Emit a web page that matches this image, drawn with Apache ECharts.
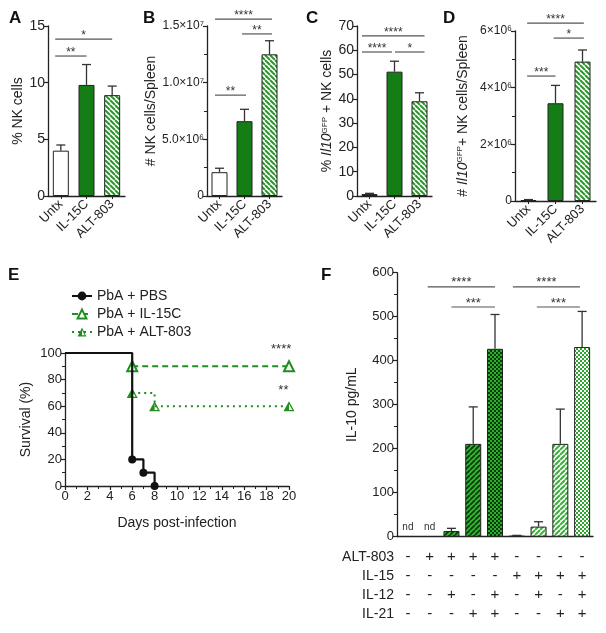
<!DOCTYPE html>
<html><head><meta charset="utf-8">
<script src="https://cdn.jsdelivr.net/npm/echarts@6/dist/echarts.min.js"></script>
<style>html,body{margin:0;padding:0;background:#fff}#c{width:606px;height:633px}</style>
</head><body><div id="c"></div>
<script>
// ---------------- DATA ----------------
const groups = ['Untx', 'IL-15C', 'ALT-803'];
const nkPct = [4.0, 9.8, 8.9];
const nkPctErr = [4.5, 11.6, 9.7];
const nkCount = [2.1e6, 6.6e6, 12.5e6];
const nkCountErr = [2.45e6, 7.65e6, 13.7e6];
const il10Pct = [0.8, 51.2, 39.0];
const il10PctErr = [1.1, 55.5, 42.5];
const il10Count = [0.03e6, 3.45e6, 4.92e6];
const il10CountErr = [0.05e6, 4.08e6, 5.33e6];

const ticksB = {0: '0', 5000000: '5.0×10⁶', 10000000: '1.0×10⁷', 15000000: '1.5×10⁷'};
const ticksD = {0: '0', 2000000: '2×10⁶', 4000000: '4×10⁶', 6000000: '6×10⁶'};

const pbsDays = [0, 6, 7, 8];
const pbsSurv = [100, 20, 10, 0];
const il15cDays = [6, 20];
const il15cSurv = [90, 90];
const altDays = [6, 8, 20];
const altSurv = [70, 60, 60];

const fConditions = ['1', '2', '3', '4', '5', '6', '7', '8', '9'];
const il10Values = [null, null, 13, 211, 427, 2, 23, 211, 431];
const il10Err = [null, null, 19, 295, 505, 3, 34, 290, 512];
const rowALT803 = ['-', '+', '+', '+', '+', '-', '-', '-', '-'];
const rowIL15 = ['-', '-', '-', '-', '-', '+', '+', '+', '+'];
const rowIL12 = ['-', '-', '+', '-', '+', '-', '+', '-', '+'];
const rowIL21 = ['-', '-', '-', '+', '+', '-', '-', '+', '+'];

// significance brackets: [from index, to index, y value, label]
const sigA = [[-0.22, 2.0, 13.85, '*'], [-0.22, 1.0, 12.35, '**']];
const sigB = [[-0.18, 2.1, 15.6e6, '****'], [0.9, 2.1, 14.3e6, '**'], [-0.18, 1.06, 8.9e6, '**']];
const sigC = [[-0.3, 2.2, 65.9, '****'], [-0.3, 0.9, 59.3, '****'], [1.02, 2.2, 59.3, '*']];
const sigD = [[-0.05, 2.05, 6.28e6, '****'], [0.93, 2.05, 5.75e6, '*'], [-0.05, 1.0, 4.41e6, '***']];
const sigF = [[0.91, 4.0, 568, '****'], [4.82, 7.9, 568, '****'], [2.0, 4.0, 522, '***'], [5.92, 7.9, 522, '***']];
const sigE = [[19.3, 101, '****'], [19.5, 70, '**']];

// ---------------- STYLE ----------------
const FONT = 'Liberation Sans, Arial, sans-serif';
const INK = '#222';
const GREEN = '#157d15';

function stripe(bg, fg, dir, size, lw) {
  const c = document.createElement('canvas'); c.width = c.height = size;
  const g = c.getContext('2d'); g.fillStyle = bg; g.fillRect(0, 0, size, size);
  g.strokeStyle = fg; g.lineWidth = lw; g.beginPath();
  for (let k = -size; k <= size; k += size) {
    if (dir > 0) { g.moveTo(k, size); g.lineTo(k + size, 0); }
    else { g.moveTo(k, 0); g.lineTo(k + size, size); }
  }
  g.stroke();
  return {image: c, repeat: 'repeat'};
}
function checker(a, b, cell) {
  const c = document.createElement('canvas'); c.width = c.height = cell * 2;
  const g = c.getContext('2d'); g.fillStyle = a; g.fillRect(0, 0, cell * 2, cell * 2);
  g.fillStyle = b; g.fillRect(0, 0, cell, cell); g.fillRect(cell, cell, cell, cell);
  return {image: c, repeat: 'repeat'};
}

const bStyle = (color) => ({color: color, borderColor: INK, borderWidth: 1});
const abcdStyles = [bStyle('#ffffff'), bStyle(GREEN), bStyle(stripe('#ffffff', '#2f962f', -1, 5, 2))];
const darkStripe = stripe('#34b534', '#0a3a0a', 1, 5, 1.7);
const lightStripe = stripe('#ffffff', '#3fae3f', 1, 5, 2);
const fStyles = [bStyle('#fff'), bStyle('#fff'), bStyle(darkStripe), bStyle(darkStripe),
  bStyle(checker('#2cb02c', '#0b3a0b', 2)), bStyle(lightStripe), bStyle(lightStripe), bStyle(lightStripe),
  bStyle(checker('#ffffff', '#33a533', 2))];

const axisLine = {lineStyle: {color: INK, width: 1.3}};
const axisTick = {lineStyle: {color: INK, width: 1.2}, length: 4};

function catX(grid, data) {
  return {gridIndex: grid, type: 'category', data: data,
    axisLine: axisLine, axisTick: {show: true, alignWithLabel: true, length: 3, lineStyle: {color: INK}},
    axisLabel: {rotate: 45, fontSize: 13, margin: 6, color: INK, fontFamily: FONT, interval: 0}};
}
function valY(grid, min, max, interval, name, nameGap, fmt, fs, minor) {
  return {gridIndex: grid, type: 'value', min: min, max: max, interval: interval,
    axisLine: {show: true, lineStyle: {color: INK, width: 1.3}}, axisTick: {show: true, length: 4, lineStyle: {color: INK, width: 1.2}},
    minorTick: {show: !!minor, splitNumber: 2, length: 3, lineStyle: {color: INK, width: 1}},
    splitLine: {show: false},
    axisLabel: {fontSize: fs, color: INK, fontFamily: FONT, margin: 3, formatter: fmt},
    name: name, nameLocation: 'middle', nameGap: nameGap,
    nameTextStyle: {fontSize: 14, color: INK, fontFamily: FONT,
      rich: {i: {fontStyle: 'italic', fontSize: 14, fontFamily: FONT, color: INK},
             s: {fontSize: 8, fontFamily: FONT, color: INK, padding: [0, 0, 6, 0]}}}};
}

function barSeries(idx, vals, styles) {
  return {type: 'bar', xAxisIndex: idx, yAxisIndex: idx, barWidth: 16, silent: true,
    data: vals.map((v, i) => ({value: v, itemStyle: styles[i]}))};
}
function errSeries(xIdx, yIdx, vals, errs, cap) {
  return {type: 'custom', xAxisIndex: xIdx, yAxisIndex: yIdx, silent: true, clip: false, z: 4,
    data: vals.map((v, i) => [i, v == null ? 0 : v, errs[i] == null ? 0 : errs[i]]),
    encode: {x: 0, y: [1, 2]},
    renderItem: function (params, api) {
      const i = params.dataIndex;
      const p = api.coord([i, api.value(1)]);
      if (vals[i] == null) {
        return {type: 'text', x: p[0], y: p[1] - 4,
          style: {text: 'nd', align: 'center', verticalAlign: 'bottom', fontSize: 10, fontFamily: FONT, fill: '#333'}};
      }
      const e = api.coord([i, api.value(2)]);
      return {type: 'group', children: [
        {type: 'line', shape: {x1: p[0], y1: p[1], x2: e[0], y2: e[1]}, style: {stroke: '#333', lineWidth: 1.3}},
        {type: 'line', shape: {x1: e[0] - cap / 2, y1: e[1], x2: e[0] + cap / 2, y2: e[1]}, style: {stroke: '#333', lineWidth: 1.3}}
      ]};
    }};
}
function sigSeries(xIdx, yIdx, list, fs) {
  return {type: 'custom', xAxisIndex: xIdx, yAxisIndex: yIdx, silent: true, clip: false, z: 6,
    data: list.map(() => [0, 0]), encode: {x: 0, y: 1},
    renderItem: function (params, api) {
      const b = list[params.dataIndex];
      const bw = api.size([1, 0])[0];
      const o = api.coord([0, b[2]]);
      const x1 = o[0] + b[0] * bw, x2 = o[0] + b[1] * bw, y = o[1];
      return {type: 'group', children: [
        {type: 'line', shape: {x1: x1, y1: y, x2: x2, y2: y}, style: {stroke: '#555', lineWidth: 1.2}},
        {type: 'text', x: (x1 + x2) / 2, y: y + 2.5,
          style: {text: b[3], align: 'center', verticalAlign: 'bottom', fontSize: fs, fontFamily: FONT, fill: '#333'}}
      ]};
    }};
}
function signAxis(data, name, offset) {
  return {gridIndex: 5, type: 'category', data: data, position: 'bottom', offset: offset,
    axisLine: {show: false}, axisTick: {show: false},
    axisLabel: {margin: 0, verticalAlign: 'middle', fontSize: 15, color: INK, fontFamily: FONT, interval: 0},
    name: name, nameLocation: 'start', nameGap: 3,
    nameTextStyle: {fontSize: 14, color: INK, fontFamily: FONT, align: 'right', verticalAlign: 'middle'}};
}

const halfTri = 'path://M50,0L100,100L0,100Z M50,26.8L19.4,88L80.6,88Z M50,0L50,100L0,100Z';

const letters = [['A', 9, 10], ['B', 143, 10], ['C', 306, 10], ['D', 443, 10], ['E', 8, 267], ['F', 321, 267]];

const option = {
  animation: false,
  backgroundColor: '#fff',
  textStyle: {fontFamily: FONT},
  graphic: letters.map(l => ({type: 'text', left: l[1], top: l[2],
    style: {text: l[0], fontSize: 17, fontWeight: 'bold', fontFamily: FONT, fill: '#111'}})),
  legend: {data: ['PbA + PBS', 'PbA + IL-15C', 'PbA + ALT-803'], orient: 'vertical', left: 66, top: 284,
    itemWidth: 20, itemHeight: 11, itemGap: 4, selectedMode: false,
    textStyle: {fontSize: 14, color: INK, fontFamily: FONT}},
  grid: [
    {left: 48, top: 26, width: 77, height: 170, outerBoundsMode: 'none'},
    {left: 207, top: 26, width: 75, height: 170, outerBoundsMode: 'none'},
    {left: 357, top: 26, width: 75, height: 170, outerBoundsMode: 'none'},
    {left: 515, top: 31, width: 81, height: 170, outerBoundsMode: 'none'},
    {left: 65, top: 353, width: 224, height: 133, outerBoundsMode: 'none'},
    {left: 397, top: 272.7, width: 196, height: 264, outerBoundsMode: 'none'}
  ],
  xAxis: [
    catX(0, groups), catX(1, groups), catX(2, groups), catX(3, groups),
    {gridIndex: 4, type: 'value', min: 0, max: 20, interval: 2,
      axisLine: axisLine, axisTick: axisTick, splitLine: {show: false},
      minorTick: {show: true, splitNumber: 2, length: 3, lineStyle: {color: INK}},
      axisLabel: {fontSize: 13, color: INK, fontFamily: FONT, margin: 4},
      name: 'Days post-infection', nameLocation: 'middle', nameGap: 30,
      nameTextStyle: {fontSize: 14, color: INK, fontFamily: FONT}},
    {gridIndex: 5, type: 'category', data: fConditions, axisLine: axisLine, axisTick: {show: false}, axisLabel: {show: false}},
    signAxis(rowALT803, 'ALT-803', 20),
    signAxis(rowIL15, 'IL-15', 39),
    signAxis(rowIL12, 'IL-12', 58),
    signAxis(rowIL21, 'IL-21', 77)
  ],
  yAxis: [
    valY(0, 0, 15, 5, '% NK cells', 22, null, 14, false),
    valY(1, 0, 1.5e7, 5e6, '# NK cells/Spleen', 45, v => ticksB[v], 12, true),
    valY(2, 0, 70, 10, '% {i|Il10}{s|GFP} + NK cells', 22, null, 14, false),
    valY(3, 0, 6e6, 2e6, '# {i|Il10}{s|GFP}+ NK cells/Spleen', 45, v => ticksD[v], 12, true),
    valY(4, 0, 100, 20, 'Survival (%)', 32, null, 13, true),
    valY(5, 0, 600, 100, 'IL-10 pg/mL', 38, null, 13, true)
  ],
  series: [
    barSeries(0, nkPct, abcdStyles), errSeries(0, 0, nkPct, nkPctErr, 9), sigSeries(0, 0, sigA, 12),
    barSeries(1, nkCount, abcdStyles), errSeries(1, 1, nkCount, nkCountErr, 9), sigSeries(1, 1, sigB, 12),
    barSeries(2, il10Pct, abcdStyles), errSeries(2, 2, il10Pct, il10PctErr, 9), sigSeries(2, 2, sigC, 12),
    barSeries(3, il10Count, abcdStyles), errSeries(3, 3, il10Count, il10CountErr, 9), sigSeries(3, 3, sigD, 12),
    {name: 'PbA + IL-15C', type: 'line', xAxisIndex: 4, yAxisIndex: 4, step: 'end', z: 3,
      data: il15cDays.map((d, i) => [d, il15cSurv[i]]),
      symbol: 'emptyTriangle', symbolSize: 10, showAllSymbol: true,
      lineStyle: {color: '#1f8f1f', width: 2, type: [6, 4]},
      itemStyle: {color: '#1f8f1f', borderColor: '#1f8f1f', borderWidth: 1.5}},
    {name: 'PbA + ALT-803', type: 'line', xAxisIndex: 4, yAxisIndex: 4, step: 'end', z: 3,
      data: altDays.map((d, i) => [d, altSurv[i]]),
      symbol: halfTri, symbolSize: [11, 10], showAllSymbol: true,
      lineStyle: {color: '#1f8f1f', width: 2, type: [2, 4]},
      itemStyle: {color: '#1f8f1f', borderWidth: 0}},
    {name: 'PbA + PBS', type: 'line', xAxisIndex: 4, yAxisIndex: 4, step: 'end', z: 4,
      data: pbsDays.map((d, i) => ({value: [d, pbsSurv[i]], symbol: i === 0 ? 'none' : 'circle'})),
      symbol: 'circle', symbolSize: 8, showAllSymbol: true,
      lineStyle: {color: '#111', width: 2.2},
      itemStyle: {color: '#111', borderWidth: 0}},
    {type: 'custom', xAxisIndex: 4, yAxisIndex: 4, silent: true, clip: false, z: 6,
      data: sigE.map(s => [s[0], s[1]]), encode: {x: 0, y: 1},
      renderItem: function (params, api) {
        const p = api.coord([api.value(0), api.value(1)]);
        return {type: 'text', x: p[0], y: p[1] + 4,
          style: {text: sigE[params.dataIndex][2], align: 'center', verticalAlign: 'bottom', fontSize: 13, fontFamily: FONT, fill: '#333'}};
      }},
    barSeries(5, il10Values, fStyles), errSeries(5, 5, il10Values, il10Err, 9), sigSeries(5, 5, sigF, 13)
  ]
};
const chart = echarts.init(document.getElementById('c'), null, {renderer: 'canvas'});
chart.setOption(option);
</script>
</body></html>
